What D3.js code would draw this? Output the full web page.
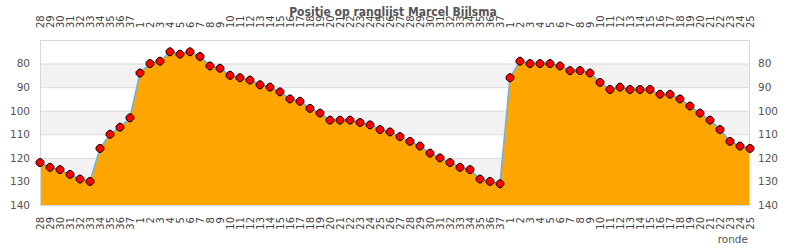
<!DOCTYPE html>
<html>
<head>
<meta charset="utf-8">
<script src="https://cdn.jsdelivr.net/npm/d3@7"></script>
<style>
  body { margin: 0; background: #fff; }
  svg { display: block; }
</style>
</head>
<body>
<svg id="chart" width="790" height="250"></svg>
<script>
const rondes = [
  "28","29","30","31","32","33","34","35","36","37",
  "1","2","3","4","5","6","7","8","9","10","11","12","13","14","15","16","17","18","19","20",
  "21","22","23","24","25","26","27","28","29","30","31","32","33","34","35","36","37",
  "1","2","3","4","5","6","7","8","9","10","11","12","13","14","15","16","17","18","19","20",
  "21","22","23","24","25"
];
const posities = [
  122,124,125,127,129,130,116,110,107,103,
  84,80,79,75,76,75,77,81,82,85,86,87,89,90,92,95,96,99,101,104,
  104,104,105,106,108,109,111,113,115,118,120,122,124,125,129,130,131,
  86,79,80,80,80,81,83,83,84,88,91,90,91,91,91,93,93,95,98,101,104,
  108,113,115,116
];
const yTicks = [80, 90, 100, 110, 120, 130, 140];
const yDomain = [70, 140];
const titel = "Positie op ranglijst Marcel Bijlsma";
const xTitel = "ronde";

const svg = d3.select("#chart");
const L = 40, R = 750, T = 40, B = 205;
const idx = d3.range(rondes.length);
const x = d3.scalePoint().domain(idx).range([L, R]);
const y = d3.scaleLinear().domain(yDomain).range([T, B]);

// bands
const bands = [];
for (let i = 0; i < yTicks.length - 1; i++) {
  if (i % 2 === 0) bands.push([yTicks[i], yTicks[i + 1]]);
}
svg.append("g").selectAll("rect").data(bands).join("rect")
  .attr("x", L).attr("width", R - L)
  .attr("y", d => y(d[0])).attr("height", d => y(d[1]) - y(d[0]))
  .attr("fill", "#f2f2f2");

svg.append("g").selectAll("line").data(yTicks).join("line")
  .attr("x1", L).attr("x2", R)
  .attr("y1", d => y(d) + 0.5).attr("y2", d => y(d) + 0.5)
  .attr("stroke", "#dcdcdc").attr("stroke-width", 1);

// area + line
const area = d3.area().x((d, i) => x(i)).y0(y(yDomain[1])).y1(d => y(d));
svg.append("path").datum(posities).attr("d", area).attr("fill", "#ffa500");
const line = d3.line().x((d, i) => x(i)).y(d => y(d));
svg.append("path").datum(posities).attr("d", line)
  .attr("fill", "none").attr("stroke", "#74aee0").attr("stroke-width", 1.6);

// frame
svg.append("rect").attr("x", L + 0.5).attr("y", T + 0.5)
  .attr("width", R - L - 1).attr("height", B - T)
  .attr("fill", "none").attr("stroke", "#d8d8d8");

// markers (diamond with softened tips)
const s = 5.2, t = 1.3;
const mk = `M${-t},${-s + t}L${t},${-s + t}L${s - t},${-t}L${s - t},${t}L${t},${s - t}L${-t},${s - t}L${-s + t},${t}L${-s + t},${-t}Z`;
svg.append("g").selectAll("path").data(posities).join("path")
  .attr("transform", (d, i) => `translate(${x(i)},${y(d)})`)
  .attr("d", mk)
  .attr("fill", "#ff0000").attr("stroke", "#000").attr("stroke-width", 1)
  .attr("stroke-linejoin", "round");

const fontAx = "DejaVu Sans, sans-serif";

// x axes
const xb = svg.append("g").attr("transform", `translate(0,${B + 12})`)
  .call(d3.axisBottom(x).tickSize(0).tickPadding(0).tickFormat(i => rondes[i]));
xb.select(".domain").remove();
xb.selectAll("text")
  .attr("transform", "rotate(-90)").attr("x", 0).attr("y", 0).attr("dy", "0.35em")
  .attr("text-anchor", "end")
  .attr("font-family", fontAx).attr("font-size", 10).attr("fill", "#444");

const xt = svg.append("g").attr("transform", `translate(0,28)`)
  .call(d3.axisTop(x).tickSize(0).tickPadding(0).tickFormat(i => rondes[i]));
xt.select(".domain").remove();
xt.selectAll("text")
  .attr("transform", "rotate(-90)").attr("x", 0).attr("y", 0).attr("dy", "0.35em")
  .attr("text-anchor", "start")
  .attr("font-family", fontAx).attr("font-size", 10).attr("fill", "#444");

// y axes
const yl = svg.append("g").attr("transform", `translate(${L - 10},0)`)
  .call(d3.axisLeft(y).tickValues(yTicks).tickSize(0).tickPadding(0));
yl.select(".domain").remove();
yl.selectAll("text").attr("font-family", fontAx).attr("font-size", 10.5).attr("fill", "#555");

const yr = svg.append("g").attr("transform", `translate(${R + 8},0)`)
  .call(d3.axisRight(y).tickValues(yTicks).tickSize(0).tickPadding(0));
yr.select(".domain").remove();
yr.selectAll("text").attr("font-family", fontAx).attr("font-size", 10.5).attr("fill", "#555");

// x title
svg.append("text").attr("x", 748).attr("y", 243).attr("text-anchor", "end")
  .attr("font-family", fontAx).attr("font-size", 10.5).attr("fill", "#555").text(xTitel);

// title
svg.append("text").attr("x", 393).attr("y", 16).attr("text-anchor", "middle")
  .attr("font-family", "DejaVu Sans Condensed, DejaVu Sans, sans-serif")
  .attr("font-stretch", "condensed")
  .attr("font-weight", "bold").attr("font-size", 12).attr("fill", "#555")
  .text(titel);
</script>
</body>
</html>
